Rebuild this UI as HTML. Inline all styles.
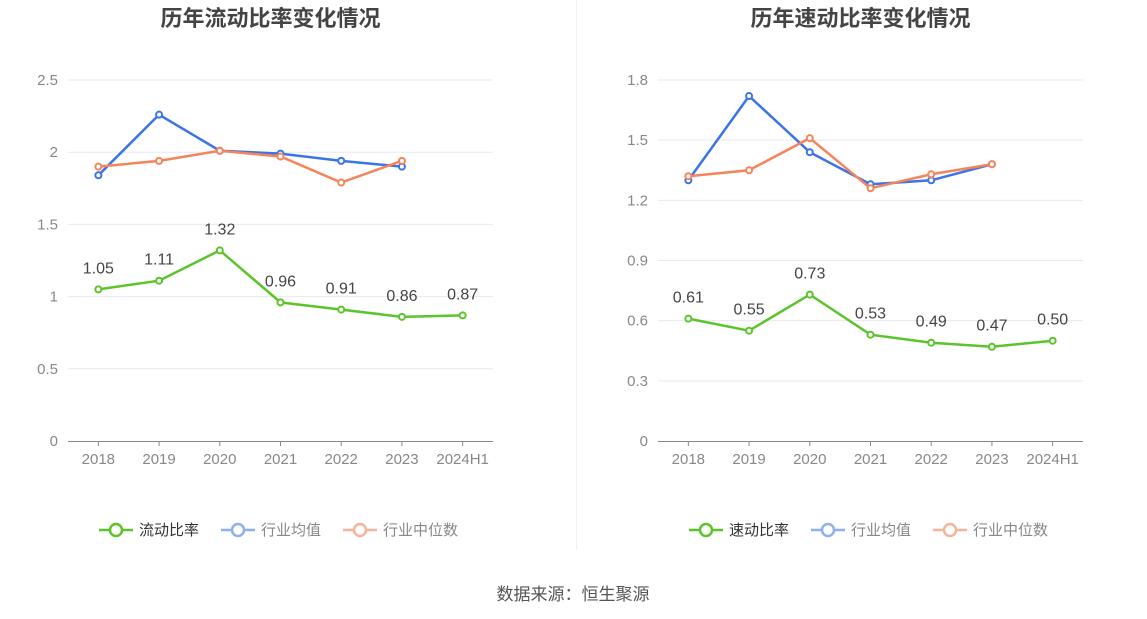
<!DOCTYPE html>
<html><head><meta charset="utf-8"><style>
body{margin:0;background:#fff;font-family:"Liberation Sans","Noto Sans CJK SC",sans-serif;}
#wrap{position:relative;width:1147px;height:619px;overflow:hidden;}
</style></head><body>
<div id="wrap">
<svg id="svg" width="1147" height="619" xmlns="http://www.w3.org/2000/svg">
<line x1="576.5" y1="0" x2="576.5" y2="550" stroke="#eef0f4"/>
<text x="573" y="600" text-anchor="middle" font-size="17" fill="#555">数据来源：恒生聚源</text>
</svg>
</div>
<script>
const categories=["2018","2019","2020","2021","2022","2023","2024H1"];
const leftMain=[1.05,1.11,1.32,0.96,0.91,0.86,0.87];
const leftAvg=[1.84,2.26,2.01,1.99,1.94,1.90];
const leftMed=[1.90,1.94,2.01,1.97,1.79,1.94];
const leftTicks=[0,0.5,1,1.5,2,2.5];
const rightMain=[0.61,0.55,0.73,0.53,0.49,0.47,0.50];
const rightAvg=[1.30,1.72,1.44,1.28,1.30,1.38];
const rightMed=[1.32,1.35,1.51,1.26,1.33,1.38];
const rightTicks=[0,0.3,0.6,0.9,1.2,1.5,1.8];
const NS="http://www.w3.org/2000/svg";
const svg=document.getElementById('svg');
function mk(tag,attrs,parent){const e=document.createElementNS(NS,tag);for(const k in attrs)e.setAttribute(k,attrs[k]);(parent||svg).appendChild(e);return e;}
function chart(o){
  const g=mk('g',{});
  
  
  const x0=o.x0,x1=o.x1,yb=441,yt=80,max=o.ticks[o.ticks.length-1];
  const bw=(x1-x0)/categories.length;
  const X=i=>x0+bw*(i+0.5);
  const Y=v=>yb-(v/max)*(yb-yt);
  const t=mk('text',{x:(x0+x1)/2-10,y:26,'text-anchor':'middle','font-size':22,'font-weight':'bold',fill:'#444'},g);
  t.textContent=o.title;
  
  
  o.ticks.forEach(v=>{
    if(v>0){const l=mk('line',{x1:x0,x2:x1,y1:Y(v),y2:Y(v),stroke:'#e6e9f0'},g);
    
    }
    const tx=mk('text',{x:x0-10,y:Y(v)+5,'text-anchor':'end','font-size':15,fill:'#888'},g);
    tx.textContent=String(v);
    
    
  });
  const ax=mk('line',{x1:x0,x2:x1,y1:yb+0.5,y2:yb+0.5,stroke:'#888'},g);
  
  
  categories.forEach((c,i)=>{
    const tk=mk('line',{x1:X(i),x2:X(i),y1:yb,y2:yb+5,stroke:'#888'},g);
    
    
    const tx=mk('text',{x:X(i),y:yb+23,'text-anchor':'middle','font-size':15,fill:'#888'},g);
    tx.textContent=c;
    
    
  });
  function series(vals,color,name,labels){
    const p=mk('polyline',{points:vals.map((v,i)=>X(i)+','+Y(v)).join(' '),fill:'none',stroke:color,'stroke-width':2.5},g);
    
    
    vals.forEach((v,i)=>{
      const c=mk('circle',{cx:X(i),cy:Y(v),r:3,fill:'#fff',stroke:color,'stroke-width':2},g);
      
      
      if(labels){const tx=mk('text',{x:X(i),y:Y(v)-16,'text-anchor':'middle','font-size':16,fill:'#444'},g);
      tx.textContent=v.toFixed(2);
      
      }
    });
  }
  series(o.avg,'#3b74e6','industry-avg',false);
  series(o.med,'#f5845a','industry-median',false);
  series(o.main,'#5cc42b','main',true);
  const leg=[[o.mainName,'#5cc42b','#333'],['行业均值','#8fb0f0','#888'],['行业中位数','#f7b39a','#888']];
  let lx=o.legX;
  leg.forEach(([n,c,tc])=>{
    const gl=mk('g',{},g);
    
    
    mk('line',{x1:lx,x2:lx+34,y1:530,y2:530,stroke:c,'stroke-width':2.5},gl);
    mk('circle',{cx:lx+17,cy:530,r:6,fill:'#fff',stroke:c,'stroke-width':2.5},gl);
    const tx=mk('text',{x:lx+40,y:535,'font-size':15,fill:tc},gl);
    tx.textContent=n;
    lx+=40+n.length*15+22;
  });
}
chart({id:'left-chart',title:'历年流动比率变化情况',x0:68,x1:493,ticks:leftTicks,main:leftMain,avg:leftAvg,med:leftMed,mainName:'流动比率',legX:99});
chart({id:'right-chart',title:'历年速动比率变化情况',x0:658,x1:1083,ticks:rightTicks,main:rightMain,avg:rightAvg,med:rightMed,mainName:'速动比率',legX:689});
</script>
</body></html>
